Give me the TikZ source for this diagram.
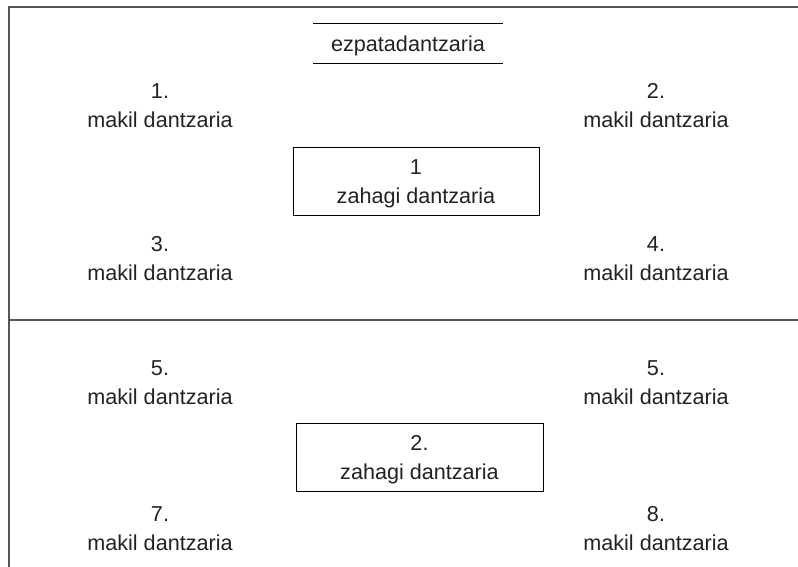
\documentclass[tikz,border=0pt]{standalone}
\usepackage{fontspec}
\setmainfont{Liberation Sans}
\definecolor{framegray}{HTML}{555555}
\definecolor{txtgray}{HTML}{222222}

\tikzset{
  dancer/.style={align=center,text=txtgray,font=\fontsize{21.6}{29}\selectfont},
  zahagibox/.style={dancer,draw=black,line width=0.8pt,minimum width=246pt,minimum height=68pt,inner sep=0pt},
  frameline/.style={draw=framegray,line width=1.6pt}
}
\newcommand{\lowstrut}{\rule{0pt}{19.5pt}}

\begin{document}
\begin{tikzpicture}[x=1pt,y=-1pt]
                \useasboundingbox (0,0) rectangle (798,567);
                % frame
                \coordinate (ftl) at (9,7);
                \coordinate (ftr) at (798,7);
                \coordinate (fbl) at (9,567);
                \coordinate (fml) at (9,320);
                \coordinate (fmr) at (798,320);
                \draw[frameline] (ftr)--(ftl)--(fbl);
                \draw[frameline] (fml)--(fmr);
                % upper group
                \node[dancer,minimum width=189pt,minimum height=39pt,inner sep=0pt] (ezp) at (408,43.5) {\lowstrut ezpatadantzaria};
                \draw[line width=0.8pt] (ezp.north west)--(ezp.north east);
                \draw[line width=0.8pt] (ezp.south west)--(ezp.south east);
                \node[dancer] (m1) at (160,106) {1.\\makil dantzaria};
                \node[dancer] (m2) at (656,106) {2.\\makil dantzaria};
                \node[zahagibox] (z1) at (416,181) {\lowstrut 1\\zahagi dantzaria};
                \node[dancer] (m3) at (160,259) {3.\\makil dantzaria};
                \node[dancer] (m4) at (656,259) {4.\\makil dantzaria};
                % lower group
                \node[dancer] (m5) at (160,383) {5.\\makil dantzaria};
                \node[dancer] (m6) at (656,383) {5.\\makil dantzaria};
                \node[zahagibox,minimum width=247pt] (z2) at (419.5,457) {\lowstrut 2.\\zahagi dantzaria};
                \node[dancer] (m7) at (160,529) {7.\\makil dantzaria};
                \node[dancer] (m8) at (656,529) {8.\\makil dantzaria};
\end{tikzpicture}
\end{document}
